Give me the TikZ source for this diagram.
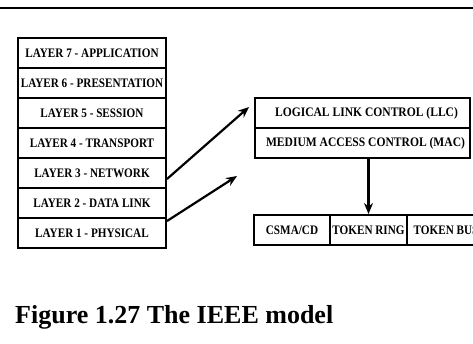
\documentclass[tikz,border=0pt]{standalone}
\usepackage{fontspec}
\setmainfont{Liberation Serif}
\newfontfamily\boxfont[FakeStretch=0.86]{Liberation Serif}
\newfontfamily\wideboxfont[FakeStretch=0.89]{Liberation Serif}
\usetikzlibrary{arrows.meta}
\begin{document}
\begin{tikzpicture}[x=1pt,y=-1pt,
  box/.style={draw, line width=2pt, minimum height=30pt, inner sep=0pt,
    font=\boxfont\bfseries\fontsize{13}{15}\selectfont},
  layerbox/.style={box, minimum width=148pt},
  macbox/.style={box, minimum width=215pt, font=\wideboxfont\bfseries\fontsize{13}{15}\selectfont},
  subbox/.style={box},
  arr/.style={line width=2.2pt, -{Stealth[length=11pt,width=9pt]}}]
\useasboundingbox (0,0) rectangle (473,343);
\draw[line width=2.5pt] (0,8) -- (473,8);
% OSI layers
\node[layerbox] (l7) at (92,53)  {LAYER 7 - APPLICATION};
\node[layerbox] (l6) at (92,83)  {LAYER 6 - PRESENTATION};
\node[layerbox] (l5) at (92,113) {LAYER 5 - SESSION};
\node[layerbox] (l4) at (92,143) {LAYER 4 - TRANSPORT};
\node[layerbox] (l3) at (92,173) {LAYER 3 - NETWORK};
\node[layerbox] (l2) at (92,203) {LAYER 2 - DATA LINK};
\node[layerbox] (l1) at (92,233) {LAYER 1 - PHYSICAL};
% IEEE
\node[macbox] (llc) at (362.5,113) {\hspace*{8pt}LOGICAL LINK CONTROL (LLC)};
\node[macbox] (mac) at (362.5,143) {\hspace*{6pt}MEDIUM ACCESS CONTROL (MAC)};
\node[subbox, minimum width=76pt] (csma) at (292,230) {CSMA/CD};
\node[subbox, minimum width=77pt] (ring) at (368.5,230) {TOKEN RING};
\node[subbox, minimum width=78pt] (bus) at (446,230) {TOKEN BUS};
% arrows
\coordinate (a2end) at (237,176);
\draw[arr] ([yshift=-6pt]l3.east) -- ([xshift=-5pt,yshift=6pt]llc.west);
\draw[arr] ([yshift=-4pt]l1.north east) -- (a2end);
\draw[arr] (mac.south -| ring.north) -- (ring.north);
% caption
\node[anchor=base west, inner sep=0pt, font=\bfseries\fontsize{26}{30}\selectfont] (cap) at (15,323) {Figure 1.27 The IEEE model};
\end{tikzpicture}
\end{document}
